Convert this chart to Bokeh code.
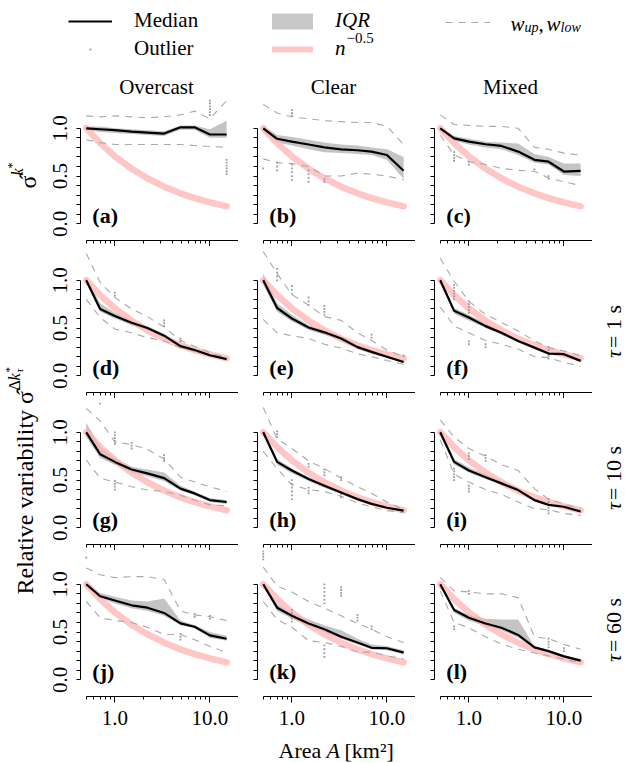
import math
from bokeh.plotting import figure
from bokeh.layouts import column, row
from bokeh.models import (Range1d, FixedTicker, PrintfTickFormatter, Label,
                          Legend, LegendItem, CustomLabelingPolicy)
from bokeh.embed import file_html
from bokeh.resources import INLINE

# ---------------- data ----------------
AREA = [0.5, 0.7, 1.0, 1.5, 2.2, 3.3, 4.9, 6.9, 10.0, 15.0]
N_POW = [1.0, 0.845, 0.707, 0.577, 0.477, 0.389, 0.319, 0.269, 0.224, 0.183]

PANELS = [["a", "b", "c"], ["d", "e", "f"], ["g", "h", "i"], ["j", "k", "l"]]
COLUMN_TITLES = ["Overcast", "Clear", "Mixed"]
ROW_TAU = ["", "1", "10", "60"]

X_MAJOR = [1.0, 10.0]
X_MINOR = [0.5, 0.6, 0.7, 0.8, 0.9, 2, 3, 4, 5, 6, 7, 8, 9, 20]
Y_MAJOR = [0.0, 0.5, 1.0]
Y_MINOR = [0.1, 0.2, 0.3, 0.4, 0.6, 0.7, 0.8, 0.9]

MEDIAN = {
    "a": [1.0, 0.99, 0.98, 0.965, 0.955, 0.945, 1.01, 1.01, 0.935, 0.935],
    "b": [1.0, 0.89, 0.86, 0.83, 0.80, 0.78, 0.77, 0.755, 0.72, 0.555],
    "c": [1.0, 0.895, 0.86, 0.833, 0.815, 0.756, 0.67, 0.65, 0.547, 0.554],
    "d": [1.0, 0.70, 0.625, 0.555, 0.50, 0.42, 0.31, 0.27, 0.215, 0.175],
    "e": [1.0, 0.71, 0.60, 0.505, 0.455, 0.39, 0.30, 0.25, 0.20, 0.145],
    "f": [1.0, 0.68, 0.61, 0.52, 0.45, 0.365, 0.295, 0.233, 0.226, 0.156],
    "g": [1.0, 0.77, 0.69, 0.61, 0.57, 0.52, 0.41, 0.36, 0.29, 0.27],
    "h": [1.0, 0.69, 0.60, 0.51, 0.44, 0.37, 0.30, 0.25, 0.21, 0.18],
    "i": [1.0, 0.69, 0.60, 0.53, 0.465, 0.395, 0.29, 0.24, 0.22, 0.17],
    "j": [1.0, 0.875, 0.83, 0.78, 0.755, 0.70, 0.59, 0.555, 0.465, 0.43],
    "k": [1.0, 0.755, 0.67, 0.59, 0.53, 0.45, 0.39, 0.335, 0.33, 0.285],
    "l": [1.0, 0.73, 0.65, 0.59, 0.545, 0.47, 0.34, 0.30, 0.245, 0.20],
}
IQR_LOW = {
    "a": [0.98, 0.96, 0.95, 0.94, 0.93, 0.92, 0.985, 0.985, 0.90, 0.90],
    "b": [0.97, 0.85, 0.82, 0.78, 0.75, 0.74, 0.73, 0.72, 0.67, 0.47],
    "c": [0.98, 0.87, 0.83, 0.80, 0.78, 0.72, 0.64, 0.62, 0.51, 0.50],
    "d": [0.97, 0.67, 0.60, 0.53, 0.48, 0.40, 0.29, 0.25, 0.20, 0.165],
    "e": [0.95, 0.67, 0.57, 0.48, 0.43, 0.37, 0.28, 0.23, 0.185, 0.13],
    "f": [0.97, 0.65, 0.58, 0.50, 0.43, 0.35, 0.28, 0.22, 0.21, 0.145],
    "g": [0.95, 0.73, 0.66, 0.58, 0.54, 0.49, 0.39, 0.34, 0.27, 0.25],
    "h": [0.97, 0.66, 0.57, 0.49, 0.42, 0.35, 0.29, 0.24, 0.20, 0.17],
    "i": [0.97, 0.66, 0.58, 0.51, 0.45, 0.38, 0.275, 0.23, 0.21, 0.16],
    "j": [0.98, 0.86, 0.80, 0.75, 0.72, 0.67, 0.57, 0.54, 0.44, 0.41],
    "k": [0.98, 0.72, 0.64, 0.56, 0.50, 0.43, 0.37, 0.32, 0.31, 0.27],
    "l": [0.99, 0.70, 0.62, 0.56, 0.52, 0.44, 0.33, 0.29, 0.23, 0.19],
}
IQR_HIGH = {
    "a": [1.02, 1.02, 1.00, 0.99, 0.98, 0.97, 1.03, 1.03, 0.99, 1.08],
    "b": [1.03, 0.93, 0.91, 0.88, 0.85, 0.83, 0.82, 0.80, 0.78, 0.70],
    "c": [1.01, 0.92, 0.89, 0.86, 0.85, 0.84, 0.73, 0.70, 0.63, 0.63],
    "d": [1.03, 0.76, 0.66, 0.58, 0.52, 0.44, 0.33, 0.285, 0.23, 0.185],
    "e": [1.07, 0.76, 0.64, 0.53, 0.48, 0.41, 0.32, 0.27, 0.215, 0.16],
    "f": [1.03, 0.71, 0.64, 0.55, 0.47, 0.38, 0.31, 0.25, 0.24, 0.17],
    "g": [1.10, 0.85, 0.73, 0.64, 0.61, 0.58, 0.44, 0.38, 0.31, 0.29],
    "h": [1.03, 0.72, 0.62, 0.53, 0.46, 0.39, 0.31, 0.26, 0.22, 0.19],
    "i": [1.03, 0.72, 0.63, 0.56, 0.49, 0.41, 0.31, 0.255, 0.235, 0.185],
    "j": [1.02, 0.91, 0.87, 0.83, 0.82, 0.85, 0.62, 0.57, 0.50, 0.46],
    "k": [1.02, 0.79, 0.70, 0.63, 0.57, 0.52, 0.43, 0.37, 0.35, 0.31],
    "l": [1.00, 0.75, 0.68, 0.64, 0.63, 0.63, 0.35, 0.31, 0.26, 0.21],
}
W_UP = {
    "a": [1.13, 1.12, 1.13, 1.12, 1.11, 1.12, 1.14, 1.18, 1.10, 1.29],
    "b": [1.25, 1.16, 1.12, 1.10, 1.08, 1.07, 1.06, 1.06, 1.02, 0.83],
    "c": [1.14, 1.04, 1.03, 1.02, 1.02, 1.00, 0.80, 0.78, 0.74, 0.72],
    "d": [1.28, 0.98, 0.82, 0.70, 0.62, 0.51, 0.37, 0.31, 0.24, 0.19],
    "e": [1.30, 1.07, 0.85, 0.74, 0.62, 0.58, 0.45, 0.37, 0.27, 0.20],
    "f": [1.23, 0.99, 0.78, 0.64, 0.56, 0.47, 0.365, 0.295, 0.26, 0.21],
    "g": [1.25, 1.12, 0.90, 0.87, 0.82, 0.72, 0.53, 0.48, 0.43, 0.38],
    "h": [1.26, 0.93, 0.83, 0.70, 0.62, 0.52, 0.43, 0.36, 0.27, 0.19],
    "i": [1.13, 0.95, 0.83, 0.75, 0.66, 0.60, 0.41, 0.30, 0.25, 0.20],
    "j": [1.17, 1.10, 1.07, 1.08, 1.08, 1.05, 0.72, 0.68, 0.66, 0.62],
    "k": [1.18, 0.98, 0.92, 0.82, 0.75, 0.67, 0.59, 0.53, 0.45, 0.39],
    "l": [1.07, 0.93, 0.92, 0.90, 0.90, 0.86, 0.45, 0.43, 0.37, 0.32],
}
W_LOW = {
    "a": [0.88, 0.85, 0.83, 0.83, 0.83, 0.83, 0.83, 0.82, 0.81, 0.80],
    "b": [0.68, 0.64, 0.63, 0.60, 0.50, 0.50, 0.53, 0.52, 0.50, 0.46],
    "c": [0.93, 0.72, 0.65, 0.62, 0.58, 0.56, 0.55, 0.48, 0.44, 0.40],
    "d": [0.80, 0.61, 0.49, 0.45, 0.40, 0.365, 0.295, 0.26, 0.225, 0.175],
    "e": [0.59, 0.45, 0.42, 0.39, 0.33, 0.29, 0.23, 0.20, 0.16, 0.12],
    "f": [0.72, 0.52, 0.45, 0.37, 0.33, 0.28, 0.20, 0.19, 0.14, 0.10],
    "g": [0.71, 0.52, 0.48, 0.43, 0.395, 0.38, 0.34, 0.29, 0.24, 0.23],
    "h": [0.80, 0.62, 0.45, 0.40, 0.38, 0.33, 0.26, 0.22, 0.18, 0.16],
    "i": [0.92, 0.56, 0.48, 0.40, 0.35, 0.27, 0.20, 0.19, 0.15, 0.13],
    "j": [0.82, 0.65, 0.62, 0.60, 0.55, 0.475, 0.475, 0.42, 0.35, 0.285],
    "k": [0.82, 0.63, 0.55, 0.41, 0.39, 0.35, 0.29, 0.29, 0.25, 0.22],
    "l": [0.93, 0.60, 0.545, 0.45, 0.375, 0.32, 0.28, 0.25, 0.215, 0.18],
}
OUT_X = {
    "a": [10, 10, 10, 10, 10, 10, 15, 15, 15, 15, 15, 15],
    "b": [0.5, 0.7, 0.7, 0.7, 1.0, 1.0, 1.0, 1.0, 1.0, 1.0, 1.0, 1.0,
          1.5, 1.5, 1.5, 1.5, 2.2, 2.2],
    "c": [0.7, 0.7, 0.7, 0.7, 1.0, 1.0, 4.9, 6.9, 6.9],
    "d": [1.0, 1.0, 3.3, 3.3, 3.3, 4.9, 4.9],
    "e": [0.7, 0.7, 0.7, 0.7, 1.0, 1.0, 1.0, 1.5, 1.5, 1.5,
          2.2, 2.2, 2.2, 2.2, 6.9, 6.9, 15],
    "f": [0.7, 0.7, 0.7, 0.7, 0.7, 0.7, 1.0, 1.0, 1.0, 1.0, 1.0, 1.0, 1.0,
          1.5, 1.5, 6.9, 6.9, 6.9, 6.9, 6.9],
    "g": [0.7, 1.0, 1.0, 1.0, 1.0, 1.0, 1.0, 1.0, 1.0, 1.0,
          1.5, 1.5, 1.5, 3.3, 3.3, 3.3],
    "h": [0.7, 0.7, 0.7, 1.0, 1.0, 1.0, 1.0, 1.0, 1.0,
          1.5, 1.5, 1.5, 1.5, 1.5, 2.2, 2.2, 2.2, 3.3, 3.3, 3.3, 3.3],
    "i": [0.7, 0.7, 0.7, 0.7, 0.7, 1.0, 1.0, 1.0, 1.0, 1.0, 1.0,
          1.5, 1.5, 1.5, 6.9, 6.9, 6.9, 6.9, 6.9, 6.9],
    "j": [0.5, 4.9, 4.9, 4.9, 6.9, 6.9, 10, 10],
    "k": [0.5, 0.5, 0.5, 0.5, 1.0, 1.0, 1.0, 1.0, 1.0,
          2.2, 2.2, 2.2, 2.2, 2.2, 2.2, 2.2, 2.2, 2.2, 2.2,
          3.3, 3.3, 3.3, 3.3, 4.9, 4.9, 4.9, 6.9, 6.9],
    "l": [0.7, 0.7, 1.0, 1.0, 6.9, 6.9, 6.9, 6.9, 10, 10],
}
OUT_Y = {
    "a": [1.14, 1.17, 1.20, 1.23, 1.26, 1.29, 0.52, 0.55, 0.58, 0.61, 0.64, 0.67],
    "b": [0.58, 0.56, 0.60, 0.64, 1.13, 1.16, 1.19, 0.46, 0.50, 0.54, 0.58, 0.62,
          0.44, 0.48, 0.52, 0.56, 0.44, 0.47],
    "c": [0.66, 0.69, 0.72, 0.75, 0.62, 0.65, 0.57, 0.47, 0.50],
    "d": [0.84, 0.87, 0.52, 0.55, 0.58, 0.36, 0.39],
    "e": [1.00, 1.04, 1.08, 1.12, 0.86, 0.90, 0.94, 0.74, 0.78, 0.82,
          0.64, 0.67, 0.70, 0.73, 0.40, 0.43, 0.21],
    "f": [0.80, 0.83, 0.86, 0.89, 0.92, 0.95, 0.66, 0.69, 0.72, 0.75, 0.78, 0.33, 0.36,
          0.30, 0.33, 0.18, 0.21, 0.24, 0.27, 0.30],
    "g": [1.30, 0.88, 0.91, 0.94, 0.97, 1.00, 0.40, 0.43, 0.46, 0.49,
          0.83, 0.86, 0.89, 0.70, 0.73, 0.76],
    "h": [0.95, 0.98, 1.01, 0.30, 0.34, 0.38, 0.42, 0.46, 0.50,
          0.36, 0.39, 0.42, 0.64, 0.67, 0.55, 0.58, 0.61, 0.32, 0.35, 0.50, 0.53],
    "i": [0.50, 0.53, 0.56, 0.59, 0.62, 0.72, 0.75, 0.78, 0.38, 0.41, 0.44,
          0.70, 0.73, 0.76, 0.15, 0.18, 0.21, 0.24, 0.27, 0.30],
    "j": [1.28, 0.42, 0.45, 0.48, 0.66, 0.69, 0.64, 0.67],
    "k": [1.26, 1.29, 1.32, 1.35, 0.61, 0.64, 0.67, 0.70, 0.73,
          0.80, 0.84, 0.88, 0.92, 0.96, 1.00, 0.24, 0.28, 0.32, 0.36,
          0.88, 0.91, 0.94, 0.97, 0.62, 0.65, 0.68, 0.53, 0.56],
    "l": [0.53, 0.56, 0.90, 0.93, 0.34, 0.37, 0.40, 0.43, 0.30, 0.33],
}

# ---------------- style ----------------
SERIF = "Liberation Serif"
FRAME_W = 158
PX_PER_UNIT = 95.5
Y_START = -0.175
IQR_COLOR = "#bebebe"
POW_COLOR = "#ffb3b3"
WHISK_COLOR = "#a9a9a9"
OUT_COLOR = "#9a9a9a"
UP = math.pi / 2
HDR_H = 98
ROW4_BOTTOM = 38
FOOT_H = 763 - HDR_H - (148 + 152 + 152 + 146 + ROW4_BOTTOM)

NO_LABELS = "for (const i of indices) { indices.unset(i) }\nreturn indices"


def panel(key, ci, ri):
    left = 40 if ci == 0 else 19
    bottom = ROW4_BOTTOM if ri == 3 else 6
    frame_h = 142 if ri == 0 else 146
    y_end = Y_START + frame_h / PX_PER_UNIT
    p = figure(width=left + FRAME_W, height=frame_h + bottom, x_axis_type="log",
               x_range=Range1d(0.435, 20.0), y_range=Range1d(Y_START, y_end),
               output_backend="svg", toolbar_location=None, title=None,
               min_border_left=left, min_border_right=0, min_border_top=0,
               min_border_bottom=bottom)
    p.outline_line_color = None
    p.xgrid.visible = False
    p.ygrid.visible = False

    xa = p.xaxis[0]
    xa.ticker = FixedTicker(ticks=X_MAJOR, minor_ticks=X_MINOR)
    xa.formatter = PrintfTickFormatter(format="%.1f")
    xa.bounds = (0.5, 20.0)
    xa.major_tick_in = 0
    xa.major_tick_out = 6
    xa.minor_tick_in = 0
    xa.minor_tick_out = 3
    xa.axis_line_color = "black"
    xa.major_tick_line_color = "black"
    xa.minor_tick_line_color = "black"
    if ri == 3:
        xa.major_label_text_font = SERIF
        xa.major_label_text_font_size = "21px"
        xa.major_label_text_color = "black"
        xa.major_label_standoff = 8
    else:
        xa.major_label_text_font_size = "0px"
        xa.major_label_standoff = 0
        xa.major_label_policy = CustomLabelingPolicy(code=NO_LABELS)

    ya = p.yaxis[0]
    ya.ticker = FixedTicker(ticks=Y_MAJOR, minor_ticks=Y_MINOR)
    ya.formatter = PrintfTickFormatter(format="%.1f")
    ya.bounds = (0.0, 1.0)
    ya.major_tick_in = 0
    ya.major_tick_out = 4
    ya.minor_tick_in = 0
    ya.minor_tick_out = 4
    ya.axis_line_color = "black"
    ya.major_tick_line_color = "black"
    ya.minor_tick_line_color = "black"
    ya.major_label_orientation = "parallel"
    if ci == 0:
        ya.major_label_text_font = SERIF
        ya.major_label_text_font_size = "21px"
        ya.major_label_text_color = "black"
        ya.major_label_standoff = 9
    else:
        ya.major_label_text_font_size = "0px"
        ya.major_label_standoff = 0
        ya.major_label_policy = CustomLabelingPolicy(code=NO_LABELS)

    p.varea(x=AREA, y1=IQR_LOW[key], y2=IQR_HIGH[key],
            fill_color=IQR_COLOR, fill_alpha=0.9)
    p.line(AREA, N_POW, line_color=POW_COLOR, line_alpha=0.75, line_width=6.5,
           line_cap="round", line_join="round")
    p.line(AREA, W_UP[key], line_color=WHISK_COLOR, line_width=1.1, line_dash="7 6")
    p.line(AREA, W_LOW[key], line_color=WHISK_COLOR, line_width=1.1, line_dash="7 6")
    p.scatter(OUT_X[key], OUT_Y[key], marker="square", size=1.8,
              fill_color=OUT_COLOR, line_color=None)
    p.line(AREA, MEDIAN[key], line_color="black", line_width=2.2, line_join="round")

    p.add_layout(Label(x=0.58, y=0.085, text="(%s)" % key, text_font=SERIF,
                       text_font_style="bold", text_font_size="22px",
                       text_baseline="alphabetic", text_align="left",
                       text_color="black"))
    return p


def pixel_fig(w, h, x0, x1, ytop, ybot):
    p = figure(width=w, height=h, x_range=Range1d(x0, x1), y_range=Range1d(ybot, ytop),
               x_axis_location=None, y_axis_location=None, output_backend="svg",
               toolbar_location=None, title=None, min_border=0)
    p.outline_line_color = None
    p.grid.visible = False
    return p


def txt(p, x, y, s, size, style="normal", align="left", angle=0.0):
    p.add_layout(Label(x=x, y=y, text=s, text_font=SERIF, text_font_size="%dpx" % size,
                       text_font_style=style, text_align=align, text_baseline="alphabetic",
                       angle=angle, text_color="black"))


# ---------------- header (legend + column titles) ----------------
hdr = pixel_fig(625, HDR_H, 0, 625, 0, HDR_H)
OFF = [-60, -50]   # legend-only renderers, kept outside the visible frame
r_med = hdr.line(x=OFF, y=OFF, line_color="black", line_width=2.2)
r_out = hdr.scatter(x=OFF, y=OFF, marker="dot", size=6, line_color=OUT_COLOR, fill_color=OUT_COLOR)
r_iqr = hdr.line(x=OFF, y=OFF, line_color="#c8c8c8", line_width=16, line_cap="round")
r_pow = hdr.line(x=OFF, y=OFF, line_color=POW_COLOR, line_alpha=0.75, line_width=6, line_cap="round")
r_w = hdr.line(x=OFF, y=OFF, line_color=WHISK_COLOR, line_width=1.1, line_dash="7 6")

common = dict(orientation="vertical", glyph_height=22, label_height=22, spacing=3,
              padding=0, margin=0, border_line_color=None, background_fill_alpha=0,
              label_text_font=SERIF, label_text_font_size="21px", label_text_color="black")
leg_a = Legend(items=[LegendItem(label="Median", renderers=[r_med]),
                      LegendItem(label="Outlier", renderers=[r_out])],
               location=(68, 37), glyph_width=44, label_standoff=22, **common)
leg_b = Legend(items=[LegendItem(label="IQR", renderers=[r_iqr]),
                      LegendItem(label="n", renderers=[r_pow])],
               location=(272, 37), glyph_width=41, label_standoff=22,
               label_text_font_style="italic", **common)
leg_c = Legend(items=[LegendItem(label=" ", renderers=[r_w])],
               location=(445, 65), glyph_width=45, label_standoff=20, **common)
for lg in (leg_a, leg_b, leg_c):
    hdr.add_layout(lg)

txt(hdr, 346, 37, "\u22120.5", 15)
txt(hdr, 510, 23, "w", 21, "italic")
txt(hdr, 524, 27, "up", 14, "italic")
txt(hdr, 538, 23, ",", 21)
txt(hdr, 546, 23, "w", 21, "italic")
txt(hdr, 560, 27, "low", 14, "italic")
for cx, t in zip([156, 333, 510], COLUMN_TITLES):
    txt(hdr, cx, 86, t, 21, align="center")

# ---------------- left strip (y labels) ----------------
GRID_H = 148 + 152 + 152 + 146 + ROW4_BOTTOM
ls = pixel_fig(40, GRID_H, 0, 40, HDR_H, HDR_H + GRID_H)
txt(ls, 27, 188, "\u03c3\u0302", 24, angle=UP)
txt(ls, 17, 175, "k", 16, "italic", angle=UP)
txt(ls, 11, 168, "*", 12, angle=UP)
txt(ls, 24, 594, "Relative variability \u03c3\u0302", 24, angle=UP)
txt(ls, 14, 390, "\u0394", 16, angle=UP)
txt(ls, 14, 380, "k", 16, "italic", angle=UP)
txt(ls, 8, 372, "*", 11, angle=UP)
txt(ls, 18, 372, "\u03c4", 11, "italic", angle=UP)

# ---------------- right strip (tau labels) ----------------
rs = pixel_fig(33, GRID_H, 592, 625, HDR_H, HDR_H + GRID_H)
for ri, tau in enumerate(ROW_TAU):
    if not tau:
        continue
    c = 175.5 + 152 * ri
    txt(rs, 613, c + 30, "\u03c4", 22, "italic", angle=UP)
    txt(rs, 613, c + 20, " = %s s" % tau, 22, angle=UP)

# ---------------- footer (x label) ----------------
ft_top = 763 - FOOT_H
ft = pixel_fig(625, FOOT_H, 0, 625, ft_top, 763)
txt(ft, 278, 750, "Area ", 22)
txt(ft, 326, 750, "A", 22, "italic")
txt(ft, 344, 750, "[km\u00b2]", 22)

# ---------------- grid ----------------
grid_rows = []
for ri, keys in enumerate(PANELS):
    grid_rows.append(row([panel(k, ci, ri) for ci, k in enumerate(keys)], spacing=0))
grid = column(grid_rows, spacing=0)

layout = column(hdr, row(ls, grid, rs, spacing=0), ft, spacing=0)

open("out.html", "w").write(file_html(layout, INLINE))
